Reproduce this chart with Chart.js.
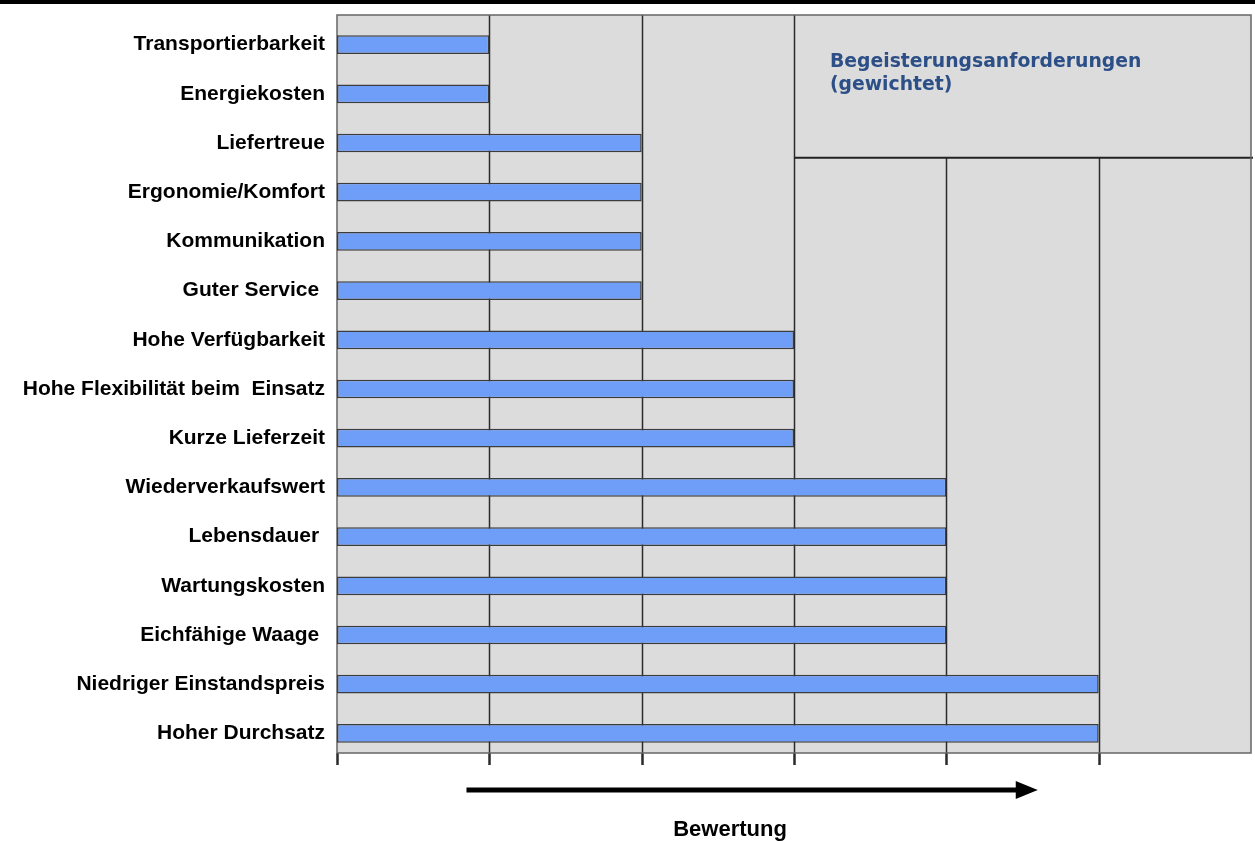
<!DOCTYPE html>
<html>
<head>
<meta charset="utf-8">
<script src="https://cdn.jsdelivr.net/npm/chart.js@4.4.1/dist/chart.umd.min.js"></script>
<style>
    html, body { margin: 0; padding: 0; background: #ffffff; }
    #wrap { width: 1255px; height: 841px; position: relative; }
</style>
</head>
<body>
<div id="wrap"><canvas id="bewertungChart"></canvas></div>
<script>
// Anforderungen (von oben nach unten)
const categories = [
    'Transportierbarkeit',
    'Energiekosten',
    'Liefertreue',
    'Ergonomie/Komfort',
    'Kommunikation',
    'Guter Service ',
    'Hohe Verfügbarkeit',
    'Hohe Flexibilität beim  Einsatz',
    'Kurze Lieferzeit',
    'Wiederverkaufswert',
    'Lebensdauer ',
    'Wartungskosten',
    'Eichfähige Waage ',
    'Niedriger Einstandspreis',
    'Hoher Durchsatz'
];
const ratings = [1, 1, 2, 2, 2, 2, 3, 3, 3, 4, 4, 4, 4, 5, 5];
const tickValues = [0, 1, 2, 3, 4, 5, 6];
const boxLines = ['Begeisterungsanforderungen', '(gewichtet)'];
const axisTitle = 'Bewertung';

const plotBg = '#dcdcdc';
// die graue Fläche sitzt im Original etwas höher als die Kategorien
const frameShift = 5;

const decoPlugin = {
    id: 'deco',
    beforeDraw: function (chart) {
        const ctx = chart.ctx;
        const a = chart.chartArea;
        ctx.save();
        // schwarze Linie oben
        ctx.fillStyle = '#000000';
        ctx.fillRect(0, 0, chart.width, 4);
        // grauer Hintergrund der Zeichenfläche
        ctx.fillStyle = plotBg;
        ctx.fillRect(a.left, a.top - frameShift, a.right - a.left, a.bottom - a.top);
        ctx.restore();
    },
    beforeDatasetsDraw: function (chart) {
        const ctx = chart.ctx;
        const a = chart.chartArea;
        const x = chart.scales.x;
        const y = chart.scales.y;
        const top = a.top - frameShift;
        const bottom = a.bottom - frameShift;
        const boxLeft = x.getPixelForValue(3);
        const boxBottom = y.getPixelForValue(2.3);
        ctx.save();

        // Gitterlinien und Teilstriche
        ctx.strokeStyle = '#2a2a2a';
        tickValues.forEach(function (v) {
            if (v === tickValues[tickValues.length - 1]) return;
            const px = Math.round(x.getPixelForValue(v)) + 0.5;
            const y0 = (v > 3) ? boxBottom : top;
            ctx.lineWidth = 1.5;
            ctx.beginPath();
            ctx.moveTo(px, v === 0 ? bottom : y0);
            ctx.lineTo(px, bottom);
            ctx.stroke();
            ctx.lineWidth = 2.5;
            ctx.beginPath();
            ctx.moveTo(px, bottom);
            ctx.lineTo(px, bottom + 12);
            ctx.stroke();
        });

        // Trennlinie unter dem Textfeld
        ctx.strokeStyle = '#222222';
        ctx.lineWidth = 2;
        ctx.beginPath();
        ctx.moveTo(boxLeft, boxBottom);
        ctx.lineTo(a.right + 2, boxBottom);
        ctx.stroke();

        ctx.fillStyle = '#2b4f86';
        ctx.font = 'bold 18.8px "DejaVu Sans"';
        ctx.textAlign = 'left';
        ctx.textBaseline = 'alphabetic';
        ctx.fillText(boxLines[0], boxLeft + 36, top + 52);
        ctx.fillText(boxLines[1], boxLeft + 36, top + 75);

        // Rahmen der Zeichenfläche
        ctx.strokeStyle = '#666666';
        ctx.lineWidth = 1.5;
        ctx.strokeRect(a.left, top, a.right - a.left, bottom - top);
        ctx.restore();
    },
    afterDraw: function (chart) {
        const ctx = chart.ctx;
        const x = chart.scales.x;
        const a = chart.chartArea;
        const bottom = a.bottom - frameShift;
        const x0 = x.getPixelForValue(0.85);
        const x1 = x.getPixelForValue(4.6);
        const ay = bottom + 37;
        ctx.save();
        // Pfeil
        ctx.fillStyle = '#000000';
        ctx.fillRect(x0, ay - 2.5, x1 - x0 - 18, 5);
        ctx.beginPath();
        ctx.moveTo(x1 - 22, ay - 9);
        ctx.lineTo(x1, ay);
        ctx.lineTo(x1 - 22, ay + 9);
        ctx.closePath();
        ctx.fill();
        // Achsentitel
        ctx.font = 'bold 22px "Liberation Sans"';
        ctx.textAlign = 'center';
        ctx.textBaseline = 'middle';
        ctx.fillText(axisTitle, x.getPixelForValue(2.58), bottom + 77);
        ctx.restore();
    }
};

const ctx = document.getElementById('bewertungChart').getContext('2d');

const bewertungChart = new Chart(ctx, {
    type: 'bar',
    data: {
        labels: categories,
        datasets: [{
            label: 'Bewertung',
            data: ratings,
            backgroundColor: '#6f9ef8',
            borderColor: '#3c3c3c',
            borderWidth: 1.5,
            borderSkipped: false,
            barPercentage: 0.38,
            categoryPercentage: 1
        }]
    },
    options: {
        indexAxis: 'y',
        responsive: true,
        maintainAspectRatio: false,
        animation: false,
        layout: {
            padding: { left: 0, top: 15 + frameShift, right: 4, bottom: 0 }
        },
        plugins: {
            legend: { display: false },
            tooltip: { enabled: false }
        },
        scales: {
            x: {
                min: 0,
                max: 6,
                afterBuildTicks: function (scale) {
                    scale.ticks = tickValues.map(v => ({ value: v }));
                },
                afterFit: function (scale) {
                    scale.height = 88 - frameShift;
                    scale.paddingLeft = 0;
                    scale.paddingRight = 0;
                },
                ticks: { display: false },
                border: { display: false },
                grid: { display: false }
            },
            y: {
                afterFit: function (scale) {
                    scale.width = 337;
                    scale.paddingTop = 0;
                    scale.paddingBottom = 0;
                },
                border: { display: false },
                grid: { display: false },
                ticks: {
                    color: '#000000',
                    padding: 4,
                    font: { family: '"Liberation Sans", Arial, sans-serif', size: 21, weight: 'bold' }
                }
            }
        }
    },
    plugins: [decoPlugin]
});
</script>
</body>
</html>
